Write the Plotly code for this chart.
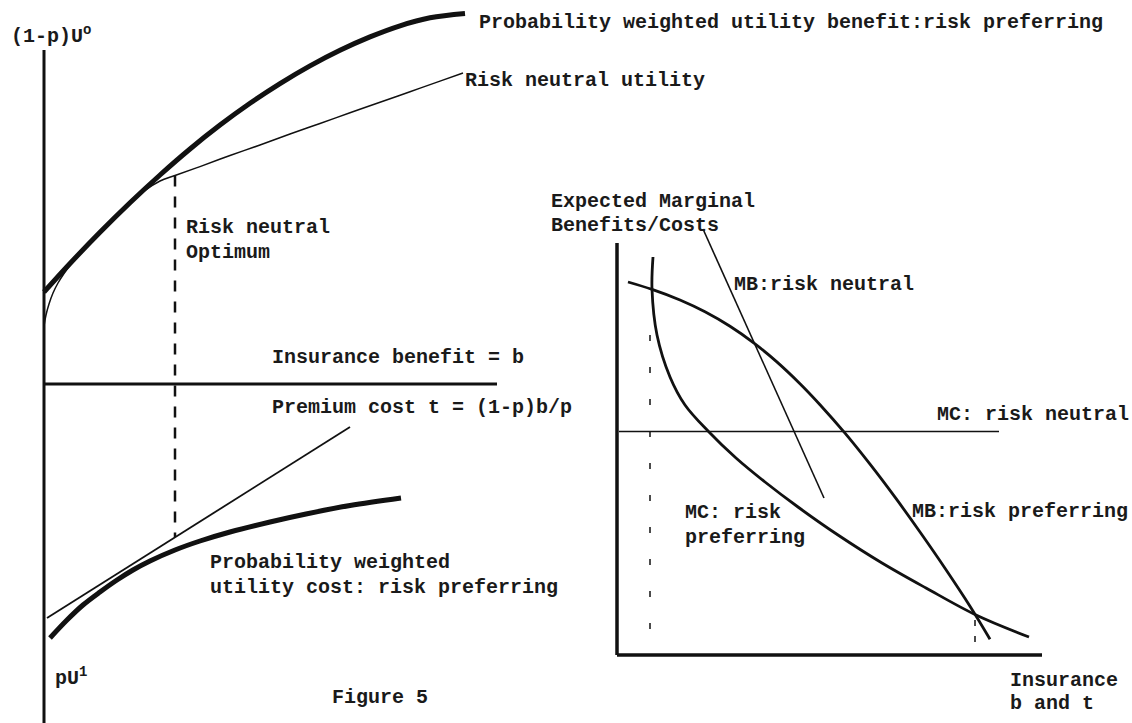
import plotly.graph_objects as go

# ---------------- Left panel (utility benefit / cost), units ----------------
benefit_x = [0, 2.6, 5.6, 8.6, 11.6, 14.6, 17.6, 20.6, 23.6, 26.6, 29.6, 32.6, 35.6, 38.6, 42.1]
benefit_y = [9.2, 12.05, 15.17, 18.12, 20.9, 23.5, 25.89, 28.07, 30.04, 31.81, 33.37, 34.71, 35.82, 36.62, 37.06]

neutral_x = [0, 0.2, 0.5, 0.9, 1.4, 2.0, 2.7, 3.5, 4.6, 5.6, 7.1, 8.6, 10.1, 11.6, 13.1,
             15.6, 18.6, 21.6, 24.6, 27.6, 30.6, 33.6, 36.6, 39.6, 41.9]
neutral_y = [5.8, 6.9, 8.0, 9.1, 10.1, 11.05, 12.0, 12.9, 14.05, 15.05, 16.55, 18.0, 19.35, 20.3, 20.85,
             21.74, 22.85, 23.9, 25.0, 26.05, 27.12, 28.17, 29.23, 30.29, 31.1]

premium_x = [0.3, 30.6]
premium_y = [-23.4, -4.3]

cost_x = [0.6, 2.3, 3.9, 5.6, 7.3, 8.9, 10.6, 13.1, 15.6, 18.6, 22.6, 26.2, 30.6, 35.7]
cost_y = [-25.4, -23.6, -22.1, -20.8, -19.6, -18.6, -17.7, -16.6, -15.7, -14.8, -13.8, -13.0, -12.15, -11.4]

optimum_x = [13.1, 13.1]
optimum_y = [20.85, -15.3]

left_vaxis_x = [0, 0]
left_vaxis_y = [-34.5, 33.4]
left_haxis_x = [0, 45.3]
left_haxis_y = [0, 0]

# ---------------- Right panel (marginal benefits / costs), units ----------------
mc_pref_x = [3.6, 3.5, 4.0, 5.3, 6.8, 9.15, 11.9, 14.8, 18.1, 22.1, 26.5, 30.9, 35.9, 41.2]
mc_pref_y = [39.8, 36.6, 32.0, 27.8, 25.0, 22.35, 19.7, 17.3, 14.8, 12.0, 9.2, 6.7, 4.0, 1.8]

mb_pref_x = [1.1, 3.5, 6.3, 8.8, 11.3, 13.7, 15.9, 18.3, 20.3, 22.8, 25.3, 27.8, 30.3, 32.8, 35.3, 37.3]
mb_pref_y = [37.3, 36.56, 35.5, 34.32, 32.87, 31.19, 29.39, 27.13, 25.03, 22.18, 19.08, 15.78, 12.3, 8.68, 4.88, 1.58]

mb_neutral_x = [8.6, 20.7]
mb_neutral_y = [42.6, 15.7]

mc_neutral_x = [0.2, 38.2]
mc_neutral_y = [22.35, 22.35]

opt1_x = [3.3, 3.3]
opt1_y = [32.0, 1.0]
opt2_x = [35.8, 35.8]
opt2_y = [3.5, 1.0]

right_vaxis_x = [0, 0]
right_vaxis_y = [0, 41.2]
right_haxis_x = [0, 42.5]
right_haxis_y = [0, 0]

INK = "#111111"
FONT = "Liberation Mono"

fig = go.Figure()


def add_line(x, y, width, axes=("x", "y"), dash=None, spline=False):
    fig.add_trace(go.Scatter(
        x=x, y=y, mode="lines", xaxis=axes[0], yaxis=axes[1],
        line=dict(color=INK, width=width, dash=dash,
                  shape="spline" if spline else "linear", smoothing=1.0),
        hoverinfo="skip", showlegend=False))


# left panel
add_line(left_vaxis_x, left_vaxis_y, 3)
add_line(left_haxis_x, left_haxis_y, 3)
add_line(neutral_x, neutral_y, 1.5, spline=True)
add_line(benefit_x, benefit_y, 5, spline=True)
add_line(premium_x, premium_y, 1.8)
add_line(cost_x, cost_y, 5, spline=True)
add_line(optimum_x, optimum_y, 2.5, dash="11px,10px")

# right panel
R = ("x2", "y2")
add_line(right_vaxis_x, right_vaxis_y, 3.5, R)
add_line(right_haxis_x, right_haxis_y, 3.5, R)
add_line(mc_neutral_x, mc_neutral_y, 1.6, R)
add_line(mb_neutral_x, mb_neutral_y, 1.6, R)
add_line(mc_pref_x, mc_pref_y, 2.8, R, spline=True)
add_line(mb_pref_x, mb_pref_y, 2.8, R, spline=True)
add_line(opt1_x, opt1_y, 1.5, R, dash="6px,26px")
add_line(opt2_x, opt2_y, 1.5, R, dash="6px,10px")

left_labels = [
    ("(1-p)U<sup>o</sup>", -3.5, 34.9),
    ("Probability weighted utility benefit:risk preferring", 43.3, 36.2),
    ("Risk neutral utility", 41.9, 30.4),
    ("Risk neutral", 14.0, 15.7),
    ("Optimum", 14.0, 13.2),
    ("Insurance benefit = b", 22.6, 2.7),
    ("Premium cost t = (1-p)b/p", 22.6, -2.3),
    ("Probability weighted", 16.4, -17.8),
    ("utility cost: risk preferring", 16.4, -20.3),
    ("pU<sup>1</sup>", 0.9, -29.3),
    ("Figure 5", 28.6, -31.3),
]
right_labels = [
    ("Expected Marginal", -6.8, 45.4),
    ("Benefits/Costs", -6.8, 43.0),
    ("MB:risk neutral", 11.5, 37.1),
    ("MC: risk neutral", 31.8, 24.1),
    ("MC: risk", 6.6, 14.3),
    ("preferring", 6.6, 11.8),
    ("MB:risk preferring", 29.3, 14.4),
    ("Insurance", 39.1, -2.5),
    ("b and t", 39.1, -4.8),
]

annotations = []
for text, x, y in left_labels:
    annotations.append(dict(text="<b>" + text + "</b>", x=x, y=y, xref="x", yref="y", showarrow=False,
                            xanchor="left", yanchor="middle",
                            font=dict(family=FONT, size=20, color="#1a1a1a")))
for text, x, y in right_labels:
    annotations.append(dict(text="<b>" + text + "</b>", x=x, y=y, xref="x2", yref="y2", showarrow=False,
                            xanchor="left", yanchor="middle",
                            font=dict(family=FONT, size=20, color="#1a1a1a")))

hidden = dict(visible=False, showgrid=False, zeroline=False, fixedrange=True)
fig.update_layout(
    width=1132, height=723,
    margin=dict(l=0, r=0, t=0, b=0),
    paper_bgcolor="white", plot_bgcolor="white",
    xaxis=dict(range=[-4.4, 108.8], domain=[0, 1], **hidden),
    yaxis=dict(range=[-33.9, 38.4], domain=[0, 1], **hidden),
    xaxis2=dict(range=[-61.7, 51.5], overlaying="x", **hidden),
    yaxis2=dict(range=[-6.8, 65.5], overlaying="y", **hidden),
    annotations=annotations,
)

fig.write_html(
    "out.html",
    config={"displayModeBar": False, "staticPlot": True},
    post_script="document.body.style.margin='0px';document.body.style.overflow='hidden';",
)
